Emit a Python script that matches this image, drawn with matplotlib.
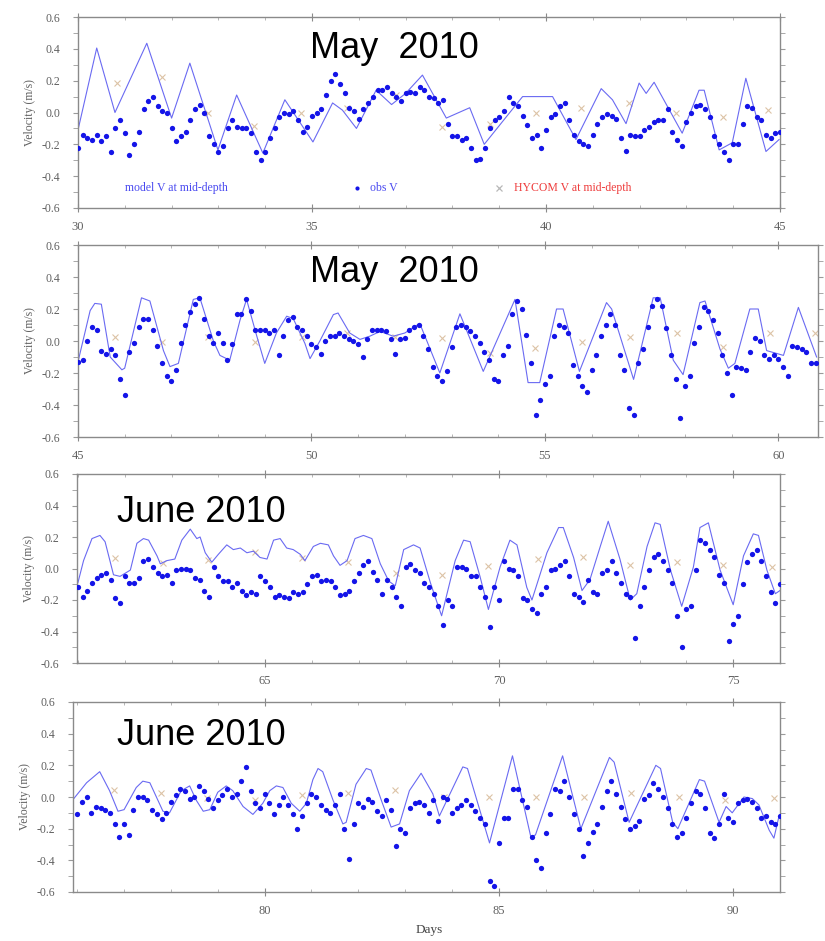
import numpy as np
import matplotlib
matplotlib.use("Agg")
import matplotlib.pyplot as plt
from matplotlib.ticker import MultipleLocator, FormatStrFormatter

plt.rcParams['axes.unicode_minus'] = False

# ---- observed V, one value every 0.1 day from the panel start ----
OBS_STEP = 0.1
obs_start = [30.0, 45.0, 61.0, 76.0]

obs_1 = [-0.22, -0.14, -0.16, -0.17, -0.14, -0.18, -0.15, -0.25, -0.10, -0.05,
         -0.13, -0.27, -0.20, -0.12, 0.02, 0.07, 0.10, 0.04, 0.01, 0.00,
         -0.10, -0.18, -0.15, -0.12, -0.05, 0.02, 0.05, 0.00, -0.15, -0.20,
         -0.25, -0.21, -0.10, -0.05, -0.09, -0.10, -0.10, -0.13, -0.25, -0.30,
         -0.25, -0.16, -0.10, -0.03, 0.00, -0.01, 0.01, -0.05, -0.12, -0.09,
         -0.02, 0.00, 0.02, 0.11, 0.20, 0.24, 0.18, 0.12, 0.03, 0.01,
         -0.04, 0.02, 0.06, 0.10, 0.14, 0.14, 0.16, 0.12, 0.10, 0.07,
         0.12, 0.13, 0.12, 0.16, 0.14, 0.10, 0.09, 0.06, 0.08, -0.07,
         -0.15, -0.15, -0.17, -0.16, -0.22, -0.30, -0.29, -0.22, -0.10, -0.05,
         -0.03, 0.01, 0.10, 0.06, 0.04, -0.02, -0.08, -0.16, -0.14, -0.22,
         -0.11, -0.03, -0.01, 0.04, 0.06, -0.05, -0.14, -0.18, -0.20, -0.21,
         -0.14, -0.07, -0.03, -0.01, -0.02, -0.04, -0.16, -0.24, -0.14, -0.15,
         -0.15, -0.11, -0.09, -0.06, -0.05, -0.05, 0.02, -0.12, -0.17, -0.21,
         -0.06, 0.00, 0.04, 0.05, 0.02, -0.03, -0.15, -0.20, -0.25, -0.30,
         -0.20, -0.20, -0.07, 0.04, 0.03, -0.03, -0.05, -0.14, -0.16, -0.13,
         -0.12]

obs_2 = [-0.13, -0.12, 0.00, 0.09, 0.07, -0.06, -0.08, -0.05, -0.09, -0.24,
         -0.34, -0.07, -0.01, 0.09, 0.14, 0.14, 0.07, -0.03, -0.14, -0.22,
         -0.25, -0.18, -0.01, 0.10, 0.18, 0.23, 0.27, 0.14, 0.03, -0.01,
         0.05, -0.01, -0.12, -0.02, 0.17, 0.17, 0.26, 0.19, 0.07, 0.07,
         0.07, 0.05, 0.07, -0.09, 0.03, 0.13, 0.15, 0.09, 0.07, 0.03,
         -0.02, -0.04, -0.08, 0.00, 0.03, 0.03, 0.05, 0.03, 0.01, 0.00,
         -0.02, -0.10, 0.01, 0.07, 0.07, 0.07, 0.06, 0.01, -0.08, 0.01,
         0.02, 0.07, 0.09, 0.10, 0.03, -0.05, -0.16, -0.22, -0.25, -0.19,
         -0.04, 0.09, 0.10, 0.09, 0.06, 0.03, -0.01, -0.07, -0.12, -0.24,
         -0.25, -0.09, -0.03, 0.17, 0.25, 0.20, 0.04, -0.14, -0.46, -0.37,
         -0.27, -0.22, 0.03, 0.10, 0.09, 0.05, -0.15, -0.22, -0.28, -0.32,
         -0.18, -0.09, 0.03, 0.10, 0.17, 0.10, -0.09, -0.18, -0.42, -0.46,
         -0.14, -0.05, 0.09, 0.22, 0.26, 0.22, 0.08, -0.09, -0.24, -0.48,
         -0.28, -0.22, -0.01, 0.09, 0.21, 0.19, 0.13, 0.05, -0.09, -0.20,
         -0.34, -0.16, -0.17, -0.18, -0.07, 0.02, 0.00, -0.09, -0.11, -0.09,
         -0.11, -0.16, -0.22, -0.03, -0.04, -0.05, -0.07, -0.14, -0.14]

obs_3 = [-0.12, -0.18, -0.14, -0.09, -0.06, -0.04, -0.03, -0.07, -0.19, -0.22,
         -0.05, -0.09, -0.09, -0.06, 0.05, 0.06, 0.01, -0.03, -0.05, -0.04,
         -0.09, -0.01, 0.00, 0.00, -0.01, -0.06, -0.07, -0.14, -0.18, 0.01,
         -0.05, -0.08, -0.08, -0.12, -0.09, -0.14, -0.17, -0.15, -0.16, -0.05,
         -0.08, -0.12, -0.18, -0.17, -0.18, -0.19, -0.15, -0.16, -0.15, -0.10,
         -0.05, -0.04, -0.08, -0.07, -0.08, -0.12, -0.17, -0.16, -0.14, -0.08,
         -0.03, 0.02, 0.05, -0.02, -0.07, -0.16, -0.07, -0.12, -0.18, -0.24,
         0.01, 0.03, -0.01, -0.03, -0.09, -0.12, -0.16, -0.24, -0.36, -0.20,
         -0.24, 0.01, 0.01, 0.00, -0.05, -0.05, -0.12, -0.18, -0.37, -0.12,
         -0.20, 0.05, 0.00, -0.01, -0.05, -0.19, -0.20, -0.26, -0.28, -0.16,
         -0.12, -0.01, 0.00, 0.02, 0.05, -0.05, -0.16, -0.18, -0.21, -0.07,
         -0.15, -0.16, -0.03, -0.01, 0.05, -0.03, -0.09, -0.16, -0.18, -0.44,
         -0.24, -0.12, -0.01, 0.07, 0.09, 0.05, -0.01, -0.09, -0.30, -0.50,
         -0.26, -0.24, -0.01, 0.18, 0.16, 0.12, 0.07, -0.04, -0.09, -0.46,
         -0.35, -0.30, -0.10, 0.04, 0.09, 0.12, 0.05, -0.05, -0.15, -0.22,
         -0.10]

obs_4 = [-0.11, -0.03, 0.00, -0.10, -0.06, -0.07, -0.08, -0.10, -0.17, -0.25,
         -0.17, -0.24, -0.08, 0.00, 0.00, -0.02, -0.08, -0.11, -0.14, -0.10,
         -0.03, 0.01, 0.05, 0.04, -0.01, 0.00, 0.07, 0.04, -0.01, -0.07,
         -0.02, 0.01, 0.05, 0.00, 0.02, 0.10, 0.19, 0.04, -0.04, -0.07,
         0.02, -0.04, -0.11, -0.05, 0.00, -0.05, -0.11, -0.20, -0.12, -0.04,
         0.02, 0.00, -0.05, -0.08, -0.10, -0.05, 0.02, -0.20, -0.39, -0.17,
         -0.04, -0.06, -0.01, -0.03, -0.09, -0.12, -0.02, -0.08, -0.31, -0.20,
         -0.23, -0.07, -0.04, -0.03, -0.05, -0.10, -0.02, -0.15, 0.00, -0.01,
         -0.10, -0.07, -0.05, -0.02, -0.05, -0.09, -0.13, -0.17, -0.53, -0.56,
         -0.29, -0.13, -0.13, 0.05, 0.05, -0.02, -0.06, -0.25, -0.40, -0.45,
         -0.23, -0.11, 0.05, 0.04, 0.10, 0.00, -0.11, -0.20, -0.37, -0.29,
         -0.22, -0.17, -0.06, 0.04, 0.10, 0.02, -0.06, -0.14, -0.20, -0.18,
         -0.15, -0.01, 0.01, 0.09, 0.05, 0.00, -0.07, -0.17, -0.25, -0.23,
         -0.13, -0.04, 0.04, 0.02, -0.07, -0.23, -0.26, -0.17, 0.02, -0.13,
         -0.16, -0.04, -0.02, -0.01, -0.03, -0.07, -0.13, -0.12, -0.16, -0.17,
         -0.12]

# ---- model V at mid-depth (line vertices) ----
model_days_1 = [30.0, 30.4, 30.79, 31.47, 32.0, 32.39, 32.99, 33.39, 33.95, 34.42,
                35.02, 35.44, 35.65, 35.95, 36.37, 36.7, 37.0, 37.36, 37.87, 38.37,
                38.68, 39.5, 40.14, 40.64, 41.18, 41.42, 41.71, 41.99, 42.14, 42.31,
                42.91, 43.27, 43.38, 43.7, 43.98, 44.27, 44.7, 44.98]
model_vel_1 = [-0.11, 0.405, 0.0, 0.435, -0.035, 0.31, -0.235, 0.11, -0.255, 0.08,
               -0.185, 0.06, 0.015, -0.10, 0.14, 0.05, 0.12, 0.235, -0.035, 0.03,
               -0.20, 0.10, 0.10, -0.17, 0.15, 0.08, -0.07, 0.185, 0.12, 0.19,
               -0.13, 0.14, 0.14, -0.235, -0.19, 0.215, -0.245, -0.17]

model_days_2 = [45.0, 45.26, 45.36, 45.5, 45.69, 45.94, 46.0, 46.36, 46.54, 46.83,
                46.97, 47.15, 47.47, 47.61, 47.9, 48.04, 48.25, 48.47, 48.61, 48.83,
                49.0, 49.25, 49.47, 49.61, 49.86, 49.97, 50.18, 50.47, 50.57, 50.82,
                51.04, 51.25, 51.47, 51.75, 52.0, 52.32, 52.75, 53.18, 53.68, 54.36,
                54.64, 54.89, 55.25, 55.39, 55.74, 56.32, 56.43, 56.9, 57.32, 57.47,
                57.75, 57.96, 58.32, 58.43, 58.75, 58.93, 59.07, 59.39, 59.57, 59.75,
                60.11, 60.43, 60.82]
model_vel_2 = [-0.13, 0.19, 0.235, 0.23, -0.10, -0.18, -0.17, 0.27, 0.25, -0.06,
               -0.16, -0.14, 0.26, 0.27, 0.0, -0.09, -0.12, 0.13, 0.26, 0.03,
               -0.14, 0.05, 0.155, 0.14, -0.015, -0.11, 0.0, 0.165, 0.175, 0.05,
               0.01, 0.03, 0.06, 0.03, 0.05, 0.11, -0.20, 0.17, -0.19, 0.26,
               -0.26, -0.26, 0.2, 0.2, -0.19, 0.24, 0.2, -0.24, 0.27, 0.27,
               -0.12, -0.21, 0.24, 0.25, -0.05, -0.17, -0.14, 0.2, 0.2, -0.06,
               -0.09, 0.21, -0.1]

model_days_3 = [61.0, 61.12, 61.3, 61.47, 61.58, 61.76, 61.9, 62.12, 62.26, 62.4,
                62.51, 62.69, 62.76, 62.9, 63.07, 63.22, 63.4, 63.54, 63.61, 63.72,
                63.86, 64.0, 64.18, 64.32, 64.47, 64.61, 64.75, 64.89, 65.04, 65.18,
                65.32, 65.46, 65.6, 65.75, 65.85, 66.03, 66.18, 66.35, 66.46, 66.6,
                66.75, 66.92, 67.1, 67.28, 67.46, 67.64, 67.78, 67.96, 68.17, 68.31,
                68.53, 68.7, 68.77, 69.06, 69.24, 69.38, 69.59, 69.77, 70.02, 70.23,
                70.38, 70.59, 70.7, 71.02, 71.27, 71.37, 71.59, 71.77, 71.94, 72.16,
                72.33, 72.58, 72.8, 72.94, 73.16, 73.33, 73.44, 73.66, 73.9, 74.15,
                74.29, 74.47, 74.72, 75.0, 75.22, 75.43, 75.54, 75.72, 75.9, 76.0]
model_vel_3 = [-0.09, 0.05, 0.19, 0.21, 0.17, -0.04, -0.05, -0.01, 0.16, 0.19,
               0.18, 0.08, 0.03, 0.05, 0.06, 0.18, 0.25, 0.19, 0.2, 0.1,
               0.04, 0.09, 0.15, 0.12, 0.13, 0.1, 0.11, 0.07, 0.06, 0.18,
               0.19, 0.13, 0.12, 0.09, 0.05, 0.14, 0.16, 0.15, 0.08, 0.02,
               0.05, 0.19, 0.21, 0.19, 0.03, -0.08, -0.11, 0.12, 0.15, 0.13,
               -0.09, -0.24, -0.3, 0.05, 0.18, 0.17, -0.05, -0.26, 0.01, 0.18,
               0.15, -0.12, -0.2, 0.1, 0.26, 0.26, 0.07, -0.14, -0.07, 0.14,
               0.3, 0.06, -0.2, -0.16, 0.14, 0.29, 0.28, -0.01, -0.24, 0.01,
               0.26, 0.29, -0.01, -0.23, 0.08, 0.22, 0.21, -0.01, -0.16, -0.14]

model_days_4 = [75.9, 76.2, 76.48, 76.69, 76.87, 77.0, 77.26, 77.4, 77.55, 77.83,
                77.97, 78.22, 78.4, 78.54, 78.69, 78.83, 79.0, 79.18, 79.32, 79.54,
                79.75, 79.96, 80.11, 80.25, 80.39, 80.57, 80.75, 80.89, 81.03, 81.14,
                81.24, 81.46, 81.67, 81.74, 81.95, 82.17, 82.27, 82.49, 82.7, 82.88,
                83.09, 83.34, 83.59, 83.73, 84.23, 84.33, 84.8, 85.29, 85.68, 85.78,
                86.36, 86.75, 87.36, 87.46, 87.78, 88.35, 88.45, 88.71, 88.82, 89.28,
                89.39, 89.7, 89.85, 89.98, 90.23, 90.41, 90.55, 90.77, 90.87, 90.98]
model_vel_4 = [-0.02, 0.09, 0.16, 0.04, -0.09, -0.08, 0.06, 0.10, 0.09, -0.09,
               -0.10, 0.04, 0.07, -0.02, -0.09, -0.08, 0.03, 0.07, 0.04, -0.06,
               -0.11, -0.04, 0.04, 0.07, 0.06, -0.04, -0.09, -0.04, 0.11, 0.18,
               0.16, -0.02, -0.17, -0.16, 0.08, 0.18, 0.17, -0.02, -0.19, -0.17,
               0.04, 0.15, 0.02, -0.12, 0.19, 0.18, -0.29, 0.26, -0.25, -0.24,
               0.26, -0.20, 0.25, 0.22, -0.16, 0.20, 0.18, -0.16, -0.20, 0.11,
               0.10, -0.16, -0.06, -0.10, 0.0, -0.01, -0.05, -0.21, -0.26, -0.12]

# ---- HYCOM V at mid-depth (daily) ----
hycom_days_1 = [30.83, 31.8, 32.78, 33.77, 34.77, 35.74, 36.8, 37.78, 38.8, 39.79,
                40.75, 41.77, 42.77, 43.78, 44.75]
hycom_vel_1 = [0.185, 0.22, 0.0, -0.085, 0.0, 0.03, 0.11, -0.09, -0.07, -0.005,
               0.03, 0.06, 0.0, -0.03, 0.015]
hycom_days_2 = [45.79, 46.8, 47.78, 48.79, 49.8, 50.76, 51.78, 52.79, 53.82, 54.79,
                55.79, 56.82, 57.83, 58.81, 59.82, 60.78]
hycom_vel_2 = [0.025, -0.005, 0.025, -0.005, 0.025, 0.05, 0.025, 0.02, -0.075, -0.045,
               -0.005, 0.025, 0.05, -0.035, 0.05, 0.05]
hycom_days_3 = [61.8, 62.82, 63.78, 64.79, 65.79, 66.78, 67.8, 68.78, 69.77, 70.82,
                71.8, 72.8, 73.8, 74.79, 75.83]
hycom_vel_3 = [0.067, 0.035, 0.055, 0.105, 0.067, 0.04, -0.03, -0.04, 0.015, 0.06,
               0.07, 0.02, 0.04, 0.02, 0.01]
hycom_days_4 = [76.78, 77.79, 78.78, 79.79, 80.79, 81.78, 82.79, 83.82, 84.79, 85.79,
                86.82, 87.83, 88.84, 89.83, 90.88]
hycom_vel_4 = [0.044, 0.025, -0.005, -0.02, 0.01, 0.025, 0.044, 0.0, 0.0, 0.0,
               0.0, 0.025, 0.0, -0.02, -0.005]

titles = ["May  2010", "May  2010", "June 2010", "June 2010"]
x_limits = [(30, 45), (45, 60.85), (60.98, 76.0), (75.91, 91.0)]

obs_all = [obs_1, obs_2, obs_3, obs_4]
model_days = [model_days_1, model_days_2, model_days_3, model_days_4]
model_vel = [model_vel_1, model_vel_2, model_vel_3, model_vel_4]
hycom_days = [hycom_days_1, hycom_days_2, hycom_days_3, hycom_days_4]
hycom_vel = [hycom_vel_1, hycom_vel_2, hycom_vel_3, hycom_vel_4]

# layout in pixels of the 825x941 picture: left, top, right, bottom
W, H = 825, 941
boxes = [(78, 17, 780, 208), (78, 245, 818, 437), (77, 474, 780, 663), (73, 702, 780, 892)]
title_xy = [(310, 58), (310, 282), (117, 522), (117, 745)]

GREY = '#606060'
SERIF = 'Liberation Serif'

fig = plt.figure(figsize=(W / 100, H / 100), dpi=100)

for i in range(4):
    l, t, r, b = boxes[i]
    ax = fig.add_axes([l / W, 1 - b / H, (r - l) / W, (b - t) / H])

    ax.plot(model_days[i], model_vel[i], color='#6a6af2', lw=0.8, zorder=2)
    days = obs_start[i] + OBS_STEP * np.arange(len(obs_all[i]))
    ax.plot(days, obs_all[i], 'o', ms=3.8, color='#1414e8', mec='none', zorder=3)
    ax.plot(hycom_days[i], hycom_vel[i], 'x', ms=5, mew=0.8, color='#dcc3a6', zorder=1)

    ax.set_xlim(*x_limits[i])
    ax.set_ylim(-0.6, 0.6)
    ax.yaxis.set_major_locator(MultipleLocator(0.2))
    ax.yaxis.set_minor_locator(MultipleLocator(0.1))
    ax.yaxis.set_major_formatter(FormatStrFormatter('%.1f'))
    ax.xaxis.set_major_locator(MultipleLocator(5))
    ax.xaxis.set_minor_locator(MultipleLocator(1))

    for sp in ax.spines.values():
        sp.set_color('#8a8a8a')
        sp.set_linewidth(1.0)
    ax.tick_params(axis='y', which='both', direction='out', length=3.5, right=True,
                   color='#9a9a9a', labelsize=8.5, labelcolor=GREY, pad=9)
    ax.tick_params(axis='x', which='major', direction='inout', length=6, top=True,
                   color='#8a8a8a', labelsize=9, labelcolor=GREY, pad=6)
    ax.tick_params(axis='x', which='minor', direction='in', length=2.5, top=True,
                   color='#aaaaaa')
    for lab in ax.get_xticklabels() + ax.get_yticklabels():
        lab.set_family(SERIF)
    ax.set_ylabel('Velocity (m/s)', family=SERIF, fontsize=8.5, color=GREY, labelpad=4)

    tx, ty = title_xy[i]
    fig.text(tx / W, 1 - ty / H, titles[i], family='Liberation Sans', fontsize=26,
             color='black', ha='left', va='baseline')

    if i == 0:
        ax.text(31.0, -0.475, 'model V at mid-depth', family=SERIF, fontsize=8.5,
                color='#4a4af0', va='center')
        ax.plot([35.97], [-0.475], 'o', ms=3, color='#1414e8', mec='none')
        ax.text(36.25, -0.475, 'obs V', family=SERIF, fontsize=8.5,
                color='#4a4af0', va='center')
        ax.plot([39.0], [-0.475], 'x', ms=4, mew=0.9, color='#b8b8b8')
        ax.text(39.32, -0.475, 'HYCOM V at mid-depth', family=SERIF, fontsize=8.5,
                color='#ee3c3c', va='center')

fig.text(429 / W, 1 - 930 / H, 'Days', family=SERIF, fontsize=9.5, color='#444444',
         ha='center', va='center')

fig.savefig('out.png', dpi=100)
